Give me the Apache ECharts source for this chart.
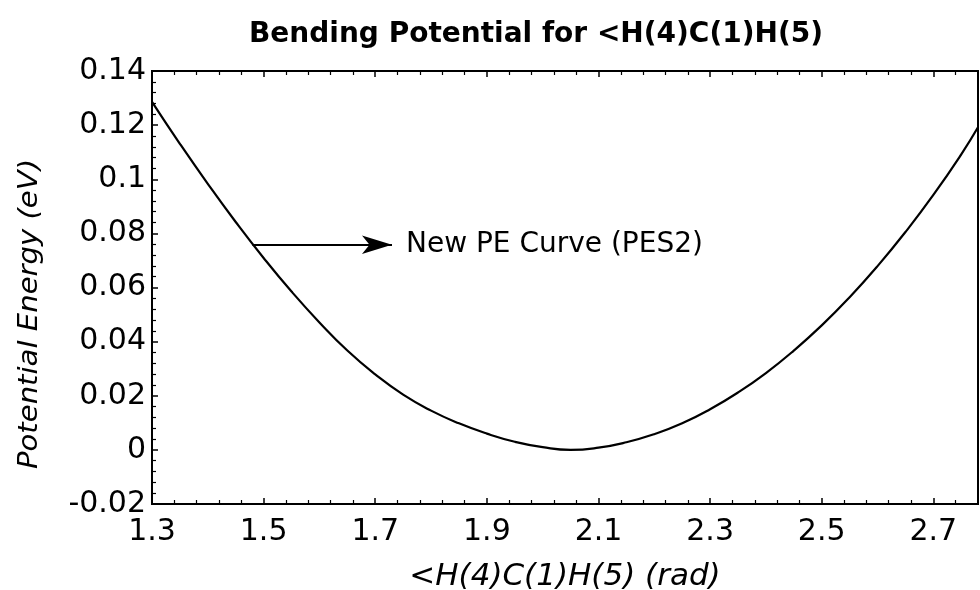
<!DOCTYPE html>
<html>
<head>
<meta charset="utf-8">
<script src="https://cdn.jsdelivr.net/npm/echarts@6/dist/echarts.min.js"></script>
<style>html,body{margin:0;padding:0;background:#fff;}#chart{width:980px;height:590px;}</style>
</head>
<body>
<div id="chart"></div>
<script>
const titleText = 'Bending Potential for <H(4)C(1)H(5)';
const xAxisName = '<H(4)C(1)H(5) (rad)';
const yAxisName = 'Potential Energy (eV)';
const curveLabel = 'New PE Curve (PES2)';

const angleValues = [1.30, 1.35, 1.40, 1.45, 1.50, 1.55, 1.60, 1.65, 1.70, 1.75,
  1.80, 1.85, 1.90, 1.95, 2.00, 2.05, 2.10, 2.15, 2.20, 2.25,
  2.30, 2.35, 2.40, 2.45, 2.50, 2.55, 2.60, 2.65, 2.70, 2.75, 2.78];
const energyValues = [0.1286, 0.1131, 0.0983, 0.0842, 0.0709, 0.0585, 0.0471, 0.0367, 0.0279, 0.0204,
  0.0145, 0.0098, 0.0060, 0.0030, 0.0010, 0.0000, 0.0008, 0.0028, 0.0058, 0.0098,
  0.0150, 0.0212, 0.0284, 0.0367, 0.0460, 0.0564, 0.0679, 0.0805, 0.0942, 0.1092, 0.1192];

const arrowStart = [1.48, 0.0758];
const arrowEnd = [1.73, 0.0758];

const xMin = 1.3, xMax = 2.78, xInterval = 0.2;
const yMin = -0.02, yMax = 0.14, yInterval = 0.02;

const curveData = angleValues.map((x, i) => [x, energyValues[i]]);

const fontFamily = '"DejaVu Sans", sans-serif';
const chart = echarts.init(document.getElementById('chart'));

const commonX = {
  type: 'value', min: xMin, max: xMax, interval: xInterval,
  axisLine: { show: true, onZero: false, lineStyle: { color: '#000', width: 2 } },
  axisTick: { show: true, inside: true, length: 6, lineStyle: { color: '#000', width: 1.5 } },
  minorTick: { show: true, splitNumber: 5, length: 4, lineStyle: { color: '#000', width: 1.2 } },
  splitLine: { show: false }
};

chart.setOption({
  backgroundColor: '#fff',
  animation: false,
  title: {
    text: titleText,
    left: 531, top: 16, textAlign: 'center',
    textStyle: { fontFamily, fontWeight: 'bold', fontSize: 28, color: '#000' }
  },
  grid: { left: 152, right: 2, top: 71, bottom: 86, show: true, borderColor: '#000', borderWidth: 2,
    containLabel: false, outerBoundsMode: 'none' },
  xAxis: [
    Object.assign({}, commonX, {
      position: 'bottom',
      name: xAxisName, nameLocation: 'middle', nameGap: 57,
      nameTextStyle: { fontFamily, fontStyle: 'italic', fontSize: 31, color: '#000' },
      axisLabel: { show: true, margin: 13, showMaxLabel: false, fontFamily, fontSize: 30, color: '#000' }
    }),
    Object.assign({}, commonX, {
      position: 'top',
      axisLabel: { show: false }
    })
  ],
  yAxis: {
    type: 'value', min: yMin, max: yMax, interval: yInterval,
    axisLine: { show: true, onZero: false, lineStyle: { color: '#000', width: 2 } },
    axisTick: { show: true, inside: true, length: 6, lineStyle: { color: '#000', width: 1.5 } },
    minorTick: { show: true, splitNumber: 5, length: 4, lineStyle: { color: '#000', width: 1.2 } },
    splitLine: { show: false },
    axisLabel: { margin: 6, fontFamily, fontSize: 30, color: '#000' }
  },
  graphic: [{
    type: 'text',
    x: 30, y: 314, rotation: Math.PI / 2,
    style: {
      text: yAxisName, fontFamily, fontStyle: 'italic', fontSize: 26,
      fill: '#000', align: 'center', verticalAlign: 'middle'
    },
    scaleX: 1.12
  }],
  series: [{
    type: 'line',
    data: curveData,
    smooth: true,
    symbol: 'none',
    clip: true,
    lineStyle: { color: '#000', width: 2.2 },
    markLine: {
      silent: true,
      animation: false,
      lineStyle: { color: '#000', width: 1.8, type: 'solid' },
      data: [[
        { coord: arrowStart, symbol: 'none' },
        { coord: arrowEnd, symbol: 'arrow', symbolSize: [14, 30],
          label: { show: true, position: 'end', distance: 14, formatter: curveLabel,
            fontFamily, fontSize: 28, color: '#000' } }
      ]]
    }
  }]
});
</script>
</body>
</html>
